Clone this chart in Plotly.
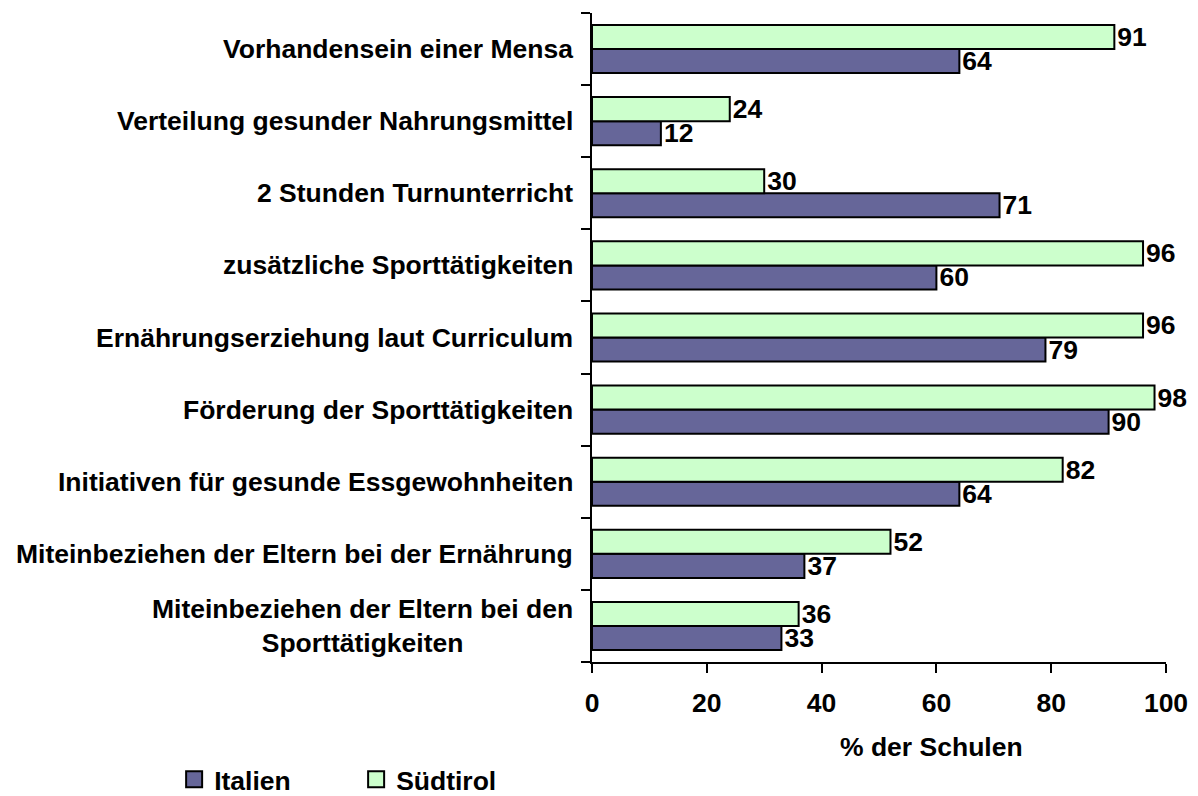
import plotly.graph_objects as go

# Categories listed top to bottom as in the chart
categories = [
    "Vorhandensein einer Mensa",
    "Verteilung gesunder Nahrungsmittel",
    "2 Stunden Turnunterricht",
    "zusätzliche Sporttätigkeiten",
    "Ernährungserziehung laut Curriculum",
    "Förderung der Sporttätigkeiten",
    "Initiativen für gesunde Essgewohnheiten",
    "Miteinbeziehen der Eltern bei der Ernährung",
    "Miteinbeziehen der Eltern bei den<br>Sporttätigkeiten",
]
italien = [64, 12, 71, 60, 79, 90, 64, 37, 33]
suedtirol = [91, 24, 30, 96, 96, 98, 82, 52, 36]
x_ticks = [0, 20, 40, 60, 80, 100]
x_title = "% der Schulen"

COL_IT = "#666699"
COL_ST = "#CCFFCC"
FONT = "Arial, 'Liberation Sans', sans-serif"
FS = 26.5
BF = dict(family=FONT, size=FS, color="black", weight="bold")

fig = go.Figure()
fig.add_trace(go.Bar(
    name="Italien", y=categories, x=italien, orientation="h",
    marker=dict(color=COL_IT, line=dict(color="black", width=2)),
    text=[str(v) for v in italien], textposition="outside",
    textfont=BF, constraintext="none", cliponaxis=False, showlegend=False,
))
fig.add_trace(go.Bar(
    name="Südtirol", y=categories, x=suedtirol, orientation="h",
    marker=dict(color=COL_ST, line=dict(color="black", width=2)),
    text=[str(v) for v in suedtirol], textposition="outside",
    textfont=BF, constraintext="none", cliponaxis=False, showlegend=False,
))
# legend entries with larger square swatches
for name, col in [("Italien", COL_IT), ("Südtirol", COL_ST)]:
    fig.add_trace(go.Scatter(
        x=[None], y=[None], mode="markers", name=name,
        marker=dict(symbol="square", size=16, color=col,
                    line=dict(color="black", width=2)),
        hoverinfo="skip",
    ))

for c in categories:
    fig.add_annotation(
        x=0, xref="paper", xanchor="right", xshift=-17,
        y=c, yref="y", yanchor="middle",
        text=c, showarrow=False, align="center", font=BF,
    )

fig.add_annotation(
    x=0.592, xref="paper", xanchor="center",
    y=-0.131, yref="paper", yanchor="middle",
    text=x_title, showarrow=False, font=BF,
)

fig.update_layout(
    width=1198, height=796,
    margin=dict(l=592, r=32, t=13, b=134, autoexpand=False),
    paper_bgcolor="white", plot_bgcolor="white",
    font=BF,
    barmode="group", bargap=0.333, bargroupgap=0,
    showlegend=True,
    legend=dict(
        orientation="h", x=-0.728, xanchor="left", y=-0.181, yanchor="middle",
        font=BF, entrywidth=137, bgcolor="rgba(0,0,0,0)", itemsizing="trace",
    ),
    xaxis=dict(
        range=[0, 100], tickvals=x_ticks, showgrid=False, zeroline=False,
        showline=True, linecolor="black", linewidth=2,
        ticks="outside", ticklen=9, tickwidth=2, tickcolor="black",
        tickfont=BF, ticklabelstandoff=7, automargin=False,
    ),
    yaxis=dict(
        type="category", categoryorder="array",
        categoryarray=categories[::-1], range=[-0.5, len(categories) - 0.5],
        showgrid=False, zeroline=False, showticklabels=False,
        showline=True, linecolor="black", linewidth=2,
        ticks="outside", ticklen=9, tickwidth=2, tickcolor="black",
        tickson="boundaries", automargin=False,
    ),
)

fig.write_html(
    "out.html",
    config={"displayModeBar": False},
    post_script="document.body.style.margin='0';document.body.style.overflow='hidden';",
)
